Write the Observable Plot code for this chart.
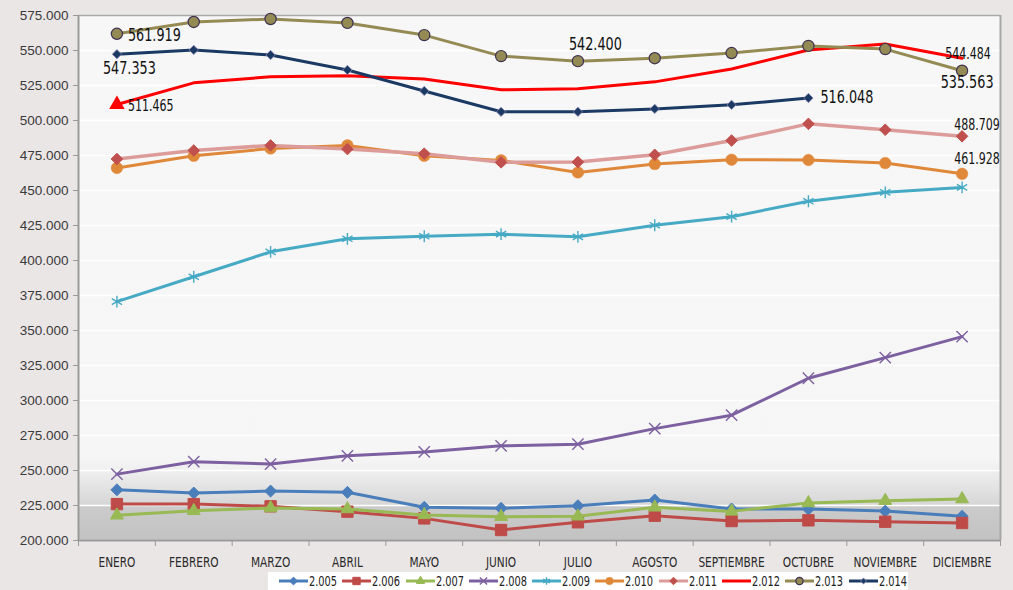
<!DOCTYPE html>
<html><head><meta charset="utf-8">
<script src="https://cdn.jsdelivr.net/npm/d3@7"></script>
<script src="https://cdn.jsdelivr.net/npm/@observablehq/plot@0.6"></script>
<style>
html,body{margin:0;padding:0;}
body{background:#ebe6e6;width:1013px;height:590px;overflow:hidden;position:relative;}
#chart{position:absolute;left:0;top:0;}
#legend{position:absolute;left:268px;top:572px;width:640px;height:18px;background:#fff;display:flex;align-items:center;padding-left:11px;box-sizing:border-box;
 font-family:"DejaVu Sans Condensed","Liberation Sans",sans-serif;font-size:14px;color:#222;}
.item{display:flex;align-items:center;width:63.3px;white-space:nowrap;}
.item svg{margin-right:1px;flex:none;}
.item span{display:inline-block;transform:scaleX(0.78);transform-origin:0 50%;}
</style></head>
<body><div id="chart"></div><div id="legend"></div>
<script>
const months = ["ENERO","FEBRERO","MARZO","ABRIL","MAYO","JUNIO","JULIO","AGOSTO","SEPTIEMBRE","OCTUBRE","NOVIEMBRE","DICIEMBRE"];
const years = ["2.005","2.006","2.007","2.008","2.009","2.010","2.011","2.012","2.013","2.014"];
const yTicks = [200000,225000,250000,275000,300000,325000,350000,375000,400000,425000,450000,475000,500000,525000,550000,575000];

const v2005 = [236200,233900,235300,234400,223700,223000,224800,228900,222500,222500,221000,217300];
const v2006 = [226000,226000,224400,220600,215800,207500,213000,217700,213900,214400,213400,212500];
const v2007 = [218000,221200,223200,222500,218300,217000,217300,223700,220800,226800,228400,229600];
const v2008 = [247400,256300,254600,260500,263300,267600,268800,279900,289500,315900,330600,345600];
const v2009 = [370600,388400,406200,415500,417300,418800,416900,425200,431300,442300,448700,452200];
const v2010 = [466100,474800,480000,482200,474800,471500,462900,468900,472000,471800,469600,461928];
const v2011 = [472500,478600,482200,479600,476300,470100,470300,475500,485700,497600,493400,488709];
const v2012 = [511465,526900,531200,531900,529700,521900,522600,527600,536800,550400,554600,544484];
const v2013 = [561919,570400,572500,569700,561000,546000,542400,544500,548200,553300,551000,535563];
const v2014 = [547353,550400,546800,536100,521100,506200,506200,508300,511200,516048];

const seriesValues = [v2005,v2006,v2007,v2008,v2009,v2010,v2011,v2012,v2013,v2014];

const loc = d3.formatLocale({decimal:",", thousands:".", grouping:[3], currency:["",""]});
const fmt = loc.format(",d");

const styles = {
  "2.005": {line:"#4a7ebb", w:3, sym:"diamond2", r:5.4, fill:"#4a7ebb", stroke:"#4a7ebb", sw:1},
  "2.006": {line:"#be4b48", w:3, sym:"square", r:6.4, fill:"#be4b48", stroke:"#be4b48", sw:1},
  "2.007": {line:"#98b954", w:3, sym:"triangle", r:4.8, fill:"#98b954", stroke:"#98b954", sw:1},
  "2.008": {line:"#7d60a0", w:3, sym:"times", r:5.2, fill:"none", stroke:"#7d60a0", sw:1.4},
  "2.009": {line:"#46aac5", w:3, sym:"asterisk", r:5.6, fill:"none", stroke:"#46aac5", sw:1.4},
  "2.010": {line:"#e0883a", w:3, sym:"circle", r:5.8, fill:"#e0883a", stroke:"#e0883a", sw:0.5},
  "2.011": {line:"#dc9c9a", w:3.5, sym:"diamond2", r:5.2, fill:"#c0504d", stroke:"#c0504d", sw:1},
  "2.012": {line:"#ff0000", w:3, sym:null, r:0, fill:"#ff0000", stroke:"#ff0000", sw:1},
  "2.013": {line:"#948a54", w:3, sym:"circle", r:5.6, fill:"#948a54", stroke:"#3f3151", sw:1.2},
  "2.014": {line:"#1b3a63", w:3, sym:"diamond2", r:4.2, fill:"#1b3a63", stroke:"#8a84b5", sw:0.8}
};

const rows = [];
years.forEach((yr, k) => seriesValues[k].forEach((v, i) => rows.push({year: yr, mi: i, month: months[i], value: v})));

const cond = '"DejaVu Sans Condensed","Liberation Sans",sans-serif';
const marks = [
  Plot.frame({fill: "url(#bgGrad)", stroke: null}),
  Plot.gridY(yTicks, {stroke: "#ffffff", strokeOpacity: 1, strokeWidth: 1.5}),
  Plot.ruleY([d3.max(yTicks)], {stroke: "#a8a8a8", strokeWidth: 1.5}),
  Plot.ruleX([months.length - 0.5], {stroke: "#a8a8a8", strokeWidth: 2}),
  Plot.ruleX([-0.5], {stroke: "#9a9a9a", strokeWidth: 2}),
  Plot.ruleY([d3.min(yTicks)], {stroke: "#9a9a9a", strokeWidth: 2}),
  Plot.axisY(yTicks, {tickSize: 5, tickPadding: 5, tickFormat: fmt, stroke: "#9a9a9a", fill: "#3a3a3a",
    fontSize: 13.5, fontFamily: '"Liberation Sans",Arial,sans-serif', label: null}),
  Plot.axisX(d3.range(months.length + 1).map(i => i - 0.5), {tickSize: 6, stroke: "#9a9a9a", fill: "none", label: null}),
  Plot.axisX(d3.range(months.length), {tickSize: 0, tickPadding: 17, tickFormat: i => months[i], fill: "#2a2a2a",
    fontSize: 14, fontFamily: cond, label: null})
];

years.forEach(yr => {
  const s = styles[yr];
  const data = rows.filter(d => d.year === yr);
  marks.push(Plot.line(data, {x: "mi", y: "value", stroke: s.line, strokeWidth: s.w, strokeLinejoin: "round"}));
  if (s.sym) marks.push(Plot.dot(data, {x: "mi", y: "value", symbol: s.sym, r: s.r, fill: s.fill, stroke: s.stroke, strokeWidth: s.sw}));
});
// 2012 only marks its first point
marks.push(Plot.dot(rows.filter(d => d.year === "2.012" && d.mi === 0), {x: "mi", y: "value", symbol: "triangle", r: 4.8, fill: "#ff0000", stroke: "#ff0000"}));

function lab(yr, m) { return rows.filter(d => d.year === yr && d.month === m); }
const T = (yr, m, opts) => Plot.text(lab(yr, m), {x: "mi", y: "value", text: d => fmt(d.value), fill: "#111", fontFamily: cond, ...opts});
marks.push(
  T("2.013","ENERO", {dx: 11, dy: 1, textAnchor: "start", fontSize: 18}),
  T("2.014","ENERO", {dx: -14, dy: 14, textAnchor: "start", fontSize: 18}),
  T("2.012","ENERO", {dx: 11, dy: 2, textAnchor: "start", fontSize: 15.5}),
  T("2.013","JULIO", {dx: -9, dy: -17, textAnchor: "start", fontSize: 18}),
  T("2.014","OCTUBRE", {dx: 12, dy: -1, textAnchor: "start", fontSize: 18}),
  T("2.012","DICIEMBRE", {dx: 6, dy: -4, textAnchor: "middle", fontSize: 15.5}),
  T("2.013","DICIEMBRE", {dx: 5, dy: 12, textAnchor: "middle", fontSize: 18}),
  T("2.011","DICIEMBRE", {dx: 15, dy: -11, textAnchor: "middle", fontSize: 15.5}),
  T("2.010","DICIEMBRE", {dx: 15, dy: -15, textAnchor: "middle", fontSize: 15.5})
);

const svg = Plot.plot({
  width: 1013, height: 572,
  marginLeft: 78, marginRight: 13, marginTop: 15, marginBottom: 32,
  x: {type: "linear", domain: [-0.5, months.length - 0.5], axis: null},
  y: {type: "linear", domain: [d3.min(yTicks), d3.max(yTicks)], axis: null},
  style: {background: "transparent", overflow: "visible"},
  marks
});
const defs = d3.select(svg).insert("defs", ":first-child");
const g = defs.append("linearGradient").attr("id", "bgGrad").attr("x1", 0).attr("y1", 0).attr("x2", 0).attr("y2", 1);
[[0, "#f7f7f7"], [0.84, "#f6f6f6"], [0.87, "#eeeeee"], [0.932, "#d6d6d6"], [0.934, "#cbcbcb"], [1, "#c2c2c2"]]
  .forEach(([o, c]) => g.append("stop").attr("offset", o).attr("stop-color", c));

// condense texts horizontally (the reference uses a condensed face)
function condense(sel, k) {
  d3.select(svg).selectAll(sel).each(function() {
    const t = this.getAttribute("transform") || "";
    this.setAttribute("transform", t + ` scale(${k},1)`);
  });
}
condense('g[aria-label="x-axis tick label"] text', 0.84);
condense('g[aria-label="text"] text', 0.79);
document.getElementById("chart").appendChild(svg);

// legend
const leg = d3.select("#legend");
const symMap = {diamond2: d3.symbolDiamond2, square: d3.symbolSquare, triangle: d3.symbolTriangle, times: d3.symbolTimes, asterisk: d3.symbolAsterisk, circle: d3.symbolCircle};
years.forEach(yr => {
  const s = styles[yr];
  const it = leg.append("div").attr("class", "item");
  const sv = it.append("svg").attr("width", 29).attr("height", 10);
  sv.append("line").attr("x1", 0).attr("x2", 29).attr("y1", 5).attr("y2", 5).attr("stroke", s.line).attr("stroke-width", 3);
  if (s.sym) {
    sv.append("path").attr("transform", "translate(14.5,5)")
      .attr("d", d3.symbol(symMap[s.sym], Math.PI * Math.pow(s.r * 0.65, 2))())
      .attr("fill", s.fill).attr("stroke", s.stroke).attr("stroke-width", s.sw);
  }
  it.append("span").text(yr);
});
</script>
</body></html>
